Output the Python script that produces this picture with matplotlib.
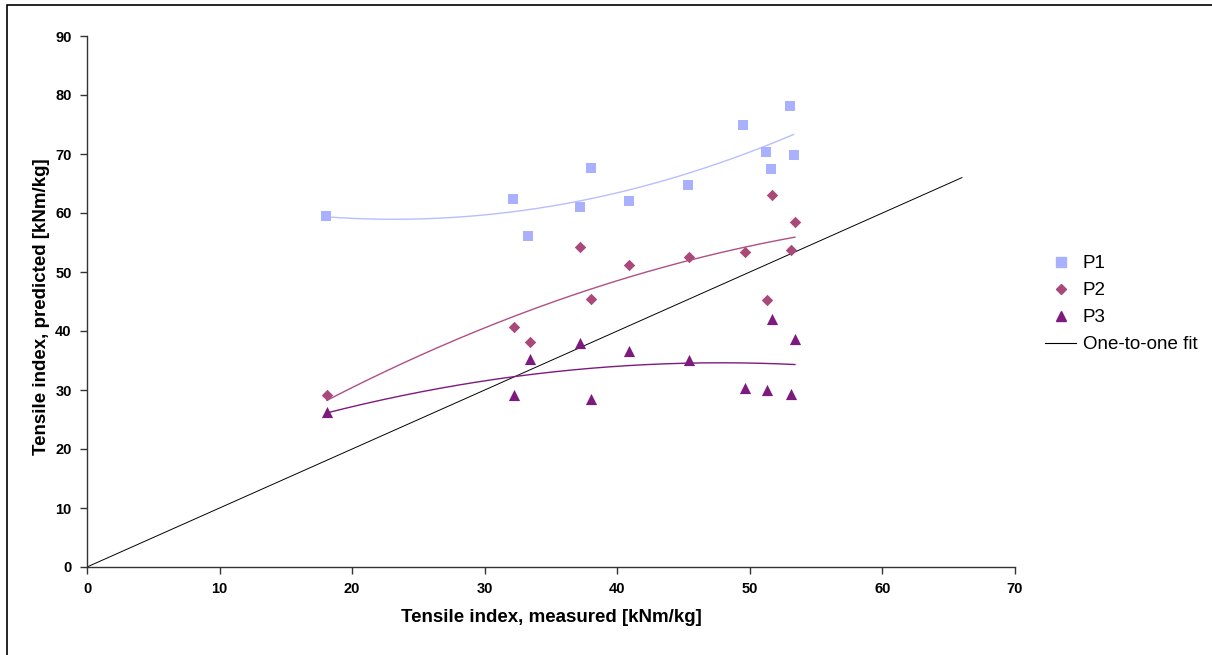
import numpy as np
import matplotlib
matplotlib.use("Agg")
import matplotlib.pyplot as plt
from matplotlib.patches import Rectangle
from matplotlib.lines import Line2D

plt.rcParams['font.family'] = ['Liberation Sans', 'DejaVu Sans']

# measured tensile index
p1_x = [18.0, 32.1, 33.3, 37.2, 38.0, 40.9, 45.3, 49.5, 51.2, 51.6, 53.0, 53.3]
p1_y = [59.5, 62.4, 56.1, 61.1, 67.6, 62.1, 64.8, 75.0, 70.4, 67.5, 78.2, 69.9]

p2_x = [18.1, 32.2, 33.4, 37.2, 38.0, 40.9, 45.4, 49.6, 51.3, 51.7, 53.1, 53.4]
p2_y = [29.1, 40.6, 38.1, 54.2, 45.4, 51.2, 52.5, 53.4, 45.2, 63.0, 53.8, 58.5]

p3_x = [18.1, 32.2, 33.4, 37.2, 38.0, 40.9, 45.4, 49.6, 51.3, 51.7, 53.1, 53.4]
p3_y = [26.2, 29.1, 35.2, 38.0, 28.4, 36.6, 35.1, 30.4, 30.0, 42.0, 29.4, 38.7]

one_to_one = [0, 66]

x_ticks = [0, 10, 20, 30, 40, 50, 60, 70]
y_ticks = [0, 10, 20, 30, 40, 50, 60, 70, 80, 90]

c1 = '#A9B1FF'
c2 = '#A8497A'
c3 = '#7E1A7E'

fig = plt.figure(figsize=(12.12, 6.55), dpi=100)
ax = fig.add_axes([87/1212, 1-567/655, (1015-87)/1212, (567-36)/655])

def trend(x, y, color):
    coef = np.polyfit(x, y, 2)
    xs = np.linspace(min(x), max(x), 200)
    ax.plot(xs, np.polyval(coef, xs), color=color, lw=1.0, zorder=2)

trend(p1_x, p1_y, '#B8BEFF')
trend(p2_x, p2_y, '#B04F84')
trend(p3_x, p3_y, c3)

ax.plot(one_to_one, one_to_one, color='black', lw=0.7, zorder=1)

ax.scatter(p1_x, p1_y, marker='s', s=55, color=c1, linewidths=0, zorder=3)
ax.scatter(p2_x, p2_y, marker='D', s=34, color=c2, linewidths=0, zorder=3)
ax.scatter(p3_x, p3_y, marker='^', s=65, color=c3, linewidths=0, zorder=3)

ax.set_xlim(0, 70)
ax.set_ylim(0, 90)
ax.set_xticks(x_ticks)
ax.set_yticks(y_ticks)
for s in ['top', 'right']:
    ax.spines[s].set_visible(False)
for s in ['left', 'bottom']:
    ax.spines[s].set_linewidth(1.0)
    ax.spines[s].set_color('#333333')
ax.tick_params(direction='out', length=5, width=1.0, color='#333333', labelsize=10.5, pad=6)
for lab in ax.get_xticklabels() + ax.get_yticklabels():
    lab.set_fontweight('bold')

ax.set_xlabel('Tensile index, measured [kNm/kg]', fontsize=13.5, fontweight='bold', va='center')
ax.set_ylabel('Tensile index, predicted [kNm/kg]', fontsize=13.5, fontweight='bold', va='center')
ax.xaxis.set_label_coords(0.5, (567-618)/531)
ax.yaxis.set_label_coords((42-87)/928, (567-307)/531)

handles = [
    Line2D([], [], marker='s', color=c1, ls='none', markersize=6.5),
    Line2D([], [], marker='D', color=c2, ls='none', markersize=5.5),
    Line2D([], [], marker='^', color=c3, ls='none', markersize=6.5),
    Line2D([], [], color='black', lw=0.8),
]
fig.legend(handles, ['P1', 'P2', 'P3', 'One-to-one fit'], loc='upper left',
           bbox_to_anchor=(1036/1212, 1-246/655), frameon=False, fontsize=13.5,
           handlelength=1.65, labelspacing=0.52, handletextpad=0.35, borderpad=0)

fig.patches.append(Rectangle((7/1212, -0.1), 1.2, 1-5/655+0.1, transform=fig.transFigure,
                             fill=False, edgecolor='black', lw=1.2))

fig.savefig('out.png', dpi=100)
